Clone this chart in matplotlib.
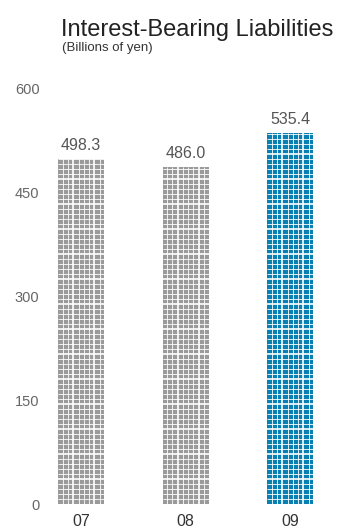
import numpy as np
import matplotlib.pyplot as plt

plt.rcParams['font.family'] = ['Liberation Sans', 'DejaVu Sans']

# data
years = ["07", "08", "09"]
values = [498.3, 486.0, 535.4]
bar_colors = ["#9a9a9a", "#9a9a9a", "#0a7fb2"]
yticks = [0, 150, 300, 450, 600]

W, H = 342, 528
fig = plt.figure(figsize=(W / 100, H / 100), dpi=100)
fig.patch.set_facecolor("white")

# axes placed in pixel terms: y 0 at 504px, 600 at 88px
ax = fig.add_axes([45 / W, 24 / H, 290 / W, 416 / H])
px_x = 104.5            # pixels per category step
px_y = 416 / 600        # pixels per unit
x = np.arange(len(years))
bw = 46 / px_x

ax.bar(x, values, width=bw, color=bar_colors, zorder=2)

# white grid cutting the bars into small squares
col_off = [4.5, 9.5, 15, 20.5, 25.5, 30.5, 36, 41.5]
col_w = [1, 1, 2, 1, 1, 1, 2, 1]
for xi, v in zip(x, values):
    left = xi - bw / 2
    for off, w in zip(col_off, col_w):
        ax.vlines(left + off / px_x, 0, v, color="white", lw=w * 0.6, zorder=3)
    k = 1
    while k * 5 / px_y < v:
        w = 2 if k % 5 == 0 else 1
        ax.hlines(k * 5 / px_y, left, left + bw, color="white", lw=w * 0.6, zorder=3)
        k += 1
    ax.text(xi, v + 8, f"{v:.1f}", ha="center", va="bottom",
            fontsize=11.5, color="#555555")

ax.set_xlim((45 - 81) / px_x, (335 - 81) / px_x)
ax.set_ylim(0, 600)
ax.set_yticks(yticks)
ax.set_yticklabels([str(t) for t in yticks])
ax.set_xticks(x)
ax.set_xticklabels(years)
ax.tick_params(axis="y", length=0, pad=4, labelsize=10.5, labelcolor="#666666")
ax.tick_params(axis="x", length=0, pad=7, labelsize=11.5, labelcolor="#333333")
for s in ax.spines.values():
    s.set_visible(False)

fig.text(61 / W, 1 - 36 / H, "Interest-Bearing Liabilities", fontsize=17,
         color="#222222", va="baseline")
fig.text(62 / W, 1 - 51 / H, "(Billions of yen)", fontsize=9.5,
         color="#333333", va="baseline")

fig.savefig("out.png", dpi=100)
